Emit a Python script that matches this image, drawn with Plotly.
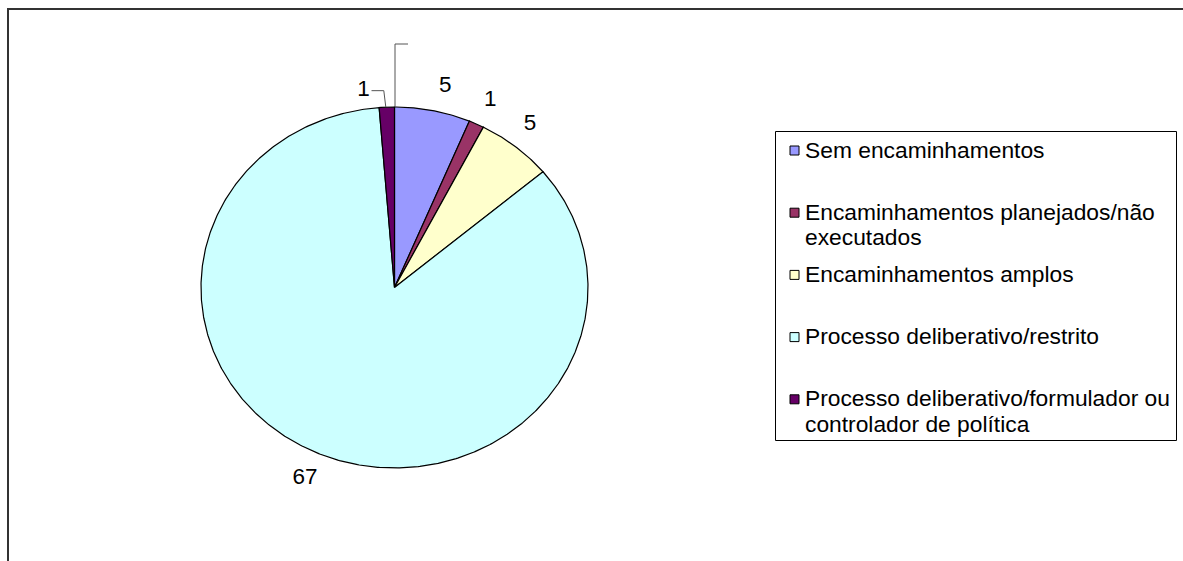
import numpy as np
import plotly.graph_objects as go

# ---------------- data ----------------
categories = [
    "Sem encaminhamentos",
    "Encaminhamentos planejados/não executados",
    "Encaminhamentos amplos",
    "Processo deliberativo/restrito",
    "Processo deliberativo/formulador ou controlador de política",
]
legend_lines = [
    ["Sem encaminhamentos"],
    ["Encaminhamentos planejados/não", "executados"],
    ["Encaminhamentos amplos"],
    ["Processo deliberativo/restrito"],
    ["Processo deliberativo/formulador ou", "controlador de política"],
]
values = [5, 1, 5, 67, 1]
colors = ["#9999FF", "#993366", "#FFFFCC", "#CCFFFF", "#660066"]

# ---------------- geometry (page pixels) ----------------
W, H = 1183, 561
CX, CY, RX, RY = 394.5, 287.5, 193.5, 180.5   # elliptical pie
LRX, LRY = 226, 208                         # label ellipse
FONT = dict(family="Liberation Sans, Arial, sans-serif", size=22.8, color="black")
LFONT = dict(family="Liberation Sans, Arial, sans-serif", size=22.5, color="black")

total = float(sum(values))
cum = np.concatenate([[0], np.cumsum(values)])

fig = go.Figure()

# slices
for i, v in enumerate(values):
    a0 = cum[i] / total * 2 * np.pi
    a1 = cum[i + 1] / total * 2 * np.pi
    n = max(int(v / total * 720), 6)
    th = np.linspace(a0, a1, n)
    xs = np.concatenate([[CX], CX + RX * np.sin(th), [CX]])
    ys = np.concatenate([[CY], CY - RY * np.cos(th), [CY]])
    fig.add_trace(go.Scatter(
        x=xs, y=ys, mode="lines", fill="toself", fillcolor=colors[i],
        line=dict(color="black", width=1.2), name=categories[i],
        showlegend=False, hoverinfo="skip"))

# data labels
mids = (cum[:-1] + cum[1:]) / 2 / total * 2 * np.pi
label_shift = [(6, 3), (0, 1), (-6, -1), (-2, -1), (-22, 11)]
lx = [CX + LRX * np.sin(m) + label_shift[i][0] for i, m in enumerate(mids)]
ly = [CY - LRY * np.cos(m) + label_shift[i][1] for i, m in enumerate(mids)]
fig.add_trace(go.Scatter(
    x=lx, y=ly, mode="text", text=[str(v) for v in values],
    textfont=LFONT, textposition="middle center", showlegend=False,
    hoverinfo="skip", cliponaxis=False))

# leader line for the last small slice
m = mids[-1]
ex, ey = CX + RX * np.sin(m), CY - RY * np.cos(m)
fig.add_trace(go.Scatter(
    x=[ex - 1, ex - 3, lx[-1] + 8], y=[ey, ly[-1], ly[-1]], mode="lines",
    line=dict(color="#555555", width=1), showlegend=False, hoverinfo="skip"))
# leader line of the (empty) zero-value point at the top
fig.add_trace(go.Scatter(
    x=[CX + 0.5, CX + 0.5, CX + 13.5], y=[CY - RY, 44, 44], mode="lines",
    line=dict(color="#555555", width=1), showlegend=False, hoverinfo="skip"))

# legend (Excel style)
LX0, LY0, LX1, LY1 = 775.5, 131.5, 1176.5, 440.5
SQX, SQY0, STEP, LINE = 794.5, 150.5, 62.2, 25.5
sq_y = [SQY0 + i * STEP for i in range(len(categories))]
fig.add_trace(go.Scatter(
    x=[SQX] * len(categories), y=sq_y, mode="markers",
    marker=dict(symbol="square", size=9, color=colors,
                line=dict(color="black", width=1)),
    showlegend=False, hoverinfo="skip"))

annotations = []
for i, lines in enumerate(legend_lines):
    for j, t in enumerate(lines):
        annotations.append(dict(
            x=803, y=sq_y[i] - 1 + j * LINE, xref="x", yref="y", text=t,
            showarrow=False, xanchor="left", yanchor="middle", font=FONT))

shapes = [
    dict(type="rect", xref="x", yref="y", x0=LX0, x1=LX1, y0=LY0, y1=LY1,
         line=dict(color="black", width=1), fillcolor="rgba(0,0,0,0)",
         layer="below"),
    dict(type="path", xref="x", yref="y",
         path=f"M 8,{H + 5} L 8,9 L {W + 5},9",
         line=dict(color="#333333", width=2)),
]

fig.update_layout(
    width=W, height=H, margin=dict(l=0, r=0, t=0, b=0),
    paper_bgcolor="white", plot_bgcolor="white",
    xaxis=dict(range=[0, W], visible=False, fixedrange=True),
    yaxis=dict(range=[H, 0], visible=False, fixedrange=True),
    showlegend=False, annotations=annotations, shapes=shapes,
)

fig.write_html(
    "out.html",
    config={"displayModeBar": False, "staticPlot": True},
    post_script="document.body.style.margin='0';document.body.style.overflow='hidden';",
)
